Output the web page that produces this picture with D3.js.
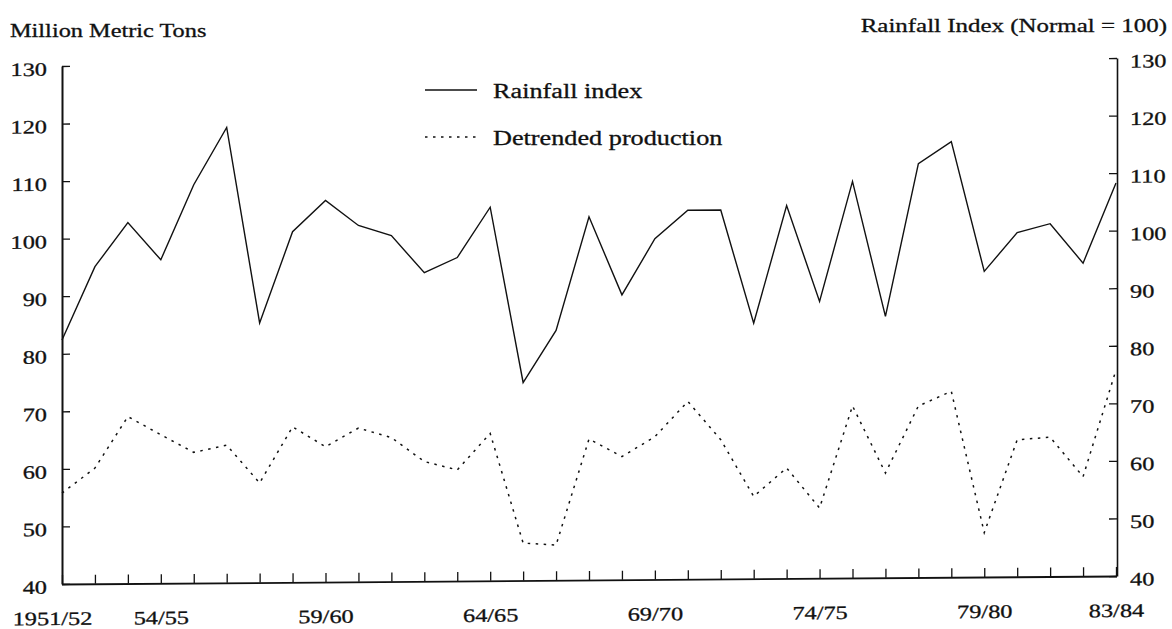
<!DOCTYPE html>
<html>
<head>
<meta charset="utf-8">
<script src="https://cdn.jsdelivr.net/npm/d3@7"></script>
<style>
  html, body { margin: 0; padding: 0; background: #fff; }
  svg { display: block; }
  text { font-family: "Liberation Serif", "Times New Roman", serif; fill: #111; stroke: #111; stroke-width: 0.3px; }
</style>
</head>
<body>
<svg id="chart" width="1172" height="629"></svg>
<script>
// ---- data ----
const seasons = ["1951/52","52/53","53/54","54/55","55/56","56/57","57/58","58/59","59/60","60/61",
  "61/62","62/63","63/64","64/65","65/66","66/67","67/68","68/69","69/70","70/71",
  "71/72","72/73","73/74","74/75","75/76","76/77","77/78","78/79","79/80","80/81",
  "81/82","82/83","83/84"];
const labeledSeasons = ["1951/52","54/55","59/60","64/65","69/70","74/75","79/80","83/84"];
const rainfallIndex = [82.4, 95.1, 102.7, 96.2, 109.2, 119.1, 85.1, 100.9, 106.3, 101.9,
  100.1, 93.6, 96.2, 104.9, 74.4, 83.4, 103.1, 89.5, 99.2, 104.1,
  104.1, 84.4, 104.8, 88.1, 108.9, 85.4, 111.9, 115.7, 93.1, 99.8,
  101.3, 94.4, 108.3];
const detrendedProduction = [55.8, 60.1, 69.0, 65.8, 62.7, 63.9, 57.3, 67.0, 63.5, 66.7,
  65.0, 60.8, 59.3, 65.6, 46.5, 46.1, 64.5, 61.4, 64.8, 70.9,
  64.2, 54.3, 59.2, 52.2, 69.9, 58.2, 69.8, 72.3, 47.7, 63.8,
  64.2, 57.3, 75.8];
const leftTicks = [40, 50, 60, 70, 80, 90, 100, 110, 120, 130];
const rightTicks = [40, 50, 60, 70, 80, 90, 100, 110, 120, 130];
const leftTitle = "Million Metric Tons";
const rightTitle = "Rainfall Index (Normal = 100)";
const legendLabels = ["Rainfall index", "Detrended production"];

// ---- layout ----
const svg = d3.select("#chart");
const SX = 1.28; // horizontal stretch of the scanned type
const x0 = 62, x1 = 1116, xRightAxis = 1117;
const yBottom = 584, yTop = 66;
const shear = -8 / (x1 - x0);

const x = d3.scalePoint().domain(seasons).range([x0, x1]);
const yL = d3.scaleLinear().domain([40, 130]).range([yBottom, yTop]);
const yR = d3.scaleLinear().domain([40, 130]).range([yBottom, yTop]);

// plot group slightly sheared like the scanned original
const g = svg.append("g")
  .attr("transform", `matrix(1,${shear},0,1,0,${-shear * x0})`);

function stretchText(sel, xOff, yOff) {
  sel.attr("x", xOff / SX).attr("y", yOff).attr("transform", `scale(${SX},1)`);
}

// left axis
const axL = g.append("g").attr("transform", `translate(${x0},0)`)
  .call(d3.axisLeft(yL).tickValues(leftTicks).tickSizeInner(-8).tickSizeOuter(0).tickPadding(15));
axL.select(".domain").attr("stroke", "#111").attr("stroke-width", 2);
axL.selectAll(".tick line").attr("stroke", "#111").attr("stroke-width", 1.3);
axL.selectAll(".tick text").attr("font-size", 19).attr("font-family", "Liberation Serif")
  .attr("fill", "#111").each(function() { stretchText(d3.select(this), -15, 3); });

// right axis
const axR = g.append("g").attr("transform", `translate(${xRightAxis},0)`)
  .call(d3.axisRight(yR).tickValues(rightTicks).tickSizeInner(-8).tickSizeOuter(0).tickPadding(13));
axR.select(".domain").attr("stroke", "#111").attr("stroke-width", 1.6);
axR.selectAll(".tick line").attr("stroke", "#111").attr("stroke-width", 1.3);
axR.selectAll(".tick text").attr("font-size", 19).attr("font-family", "Liberation Serif")
  .attr("fill", "#111").each(function() { stretchText(d3.select(this), 13, 3); });

// bottom axis
const axB = g.append("g").attr("transform", `translate(0,${yBottom})`)
  .call(d3.axisBottom(x).tickSizeInner(-9).tickSizeOuter(0)
    .tickFormat(d => labeledSeasons.includes(d) ? d : ""));
axB.select(".domain").attr("stroke", "#111").attr("stroke-width", 1.8)
  .attr("d", `M${x0},0.5H${xRightAxis}`);
axB.selectAll(".tick line").attr("stroke", "#111").attr("stroke-width", 1.3);
axB.selectAll(".tick text").attr("font-size", 19).attr("font-family", "Liberation Serif")
  .attr("fill", "#111").attr("dy", 0)
  .each(function(d) { stretchText(d3.select(this), d === seasons[0] ? -10 : 0, 41); });

// lines
const rainLine = d3.line().x((d, i) => x(seasons[i])).y(d => yR(d));
const prodLine = d3.line().x((d, i) => x(seasons[i])).y(d => yL(d));

g.append("path").datum(rainfallIndex)
  .attr("fill", "none").attr("stroke", "#111").attr("stroke-width", 1.4)
  .attr("stroke-linejoin", "miter").attr("d", rainLine);

g.append("path").datum(detrendedProduction)
  .attr("fill", "none").attr("stroke", "#111").attr("stroke-width", 1.5)
  .attr("stroke-dasharray", "2.5,5.5").attr("d", prodLine);

// titles
svg.append("text").attr("font-size", 19).attr("text-anchor", "start")
  .attr("transform", `translate(10,37) scale(${SX},1)`).text(leftTitle);
svg.append("text").attr("font-size", 19.5).attr("text-anchor", "end")
  .attr("transform", `translate(1167,32) scale(${SX},1)`).text(rightTitle);

// legend
const legend = svg.append("g");
const legendStyles = [null, "2.5,5.5"];
const legendY = [90, 137];
legendLabels.forEach((lab, i) => {
  legend.append("line").attr("x1", 425).attr("x2", 477)
    .attr("y1", legendY[i]).attr("y2", legendY[i])
    .attr("stroke", "#111").attr("stroke-width", i === 0 ? 1.3 : 1.5)
    .attr("stroke-dasharray", legendStyles[i]);
  legend.append("text").attr("font-size", 20.5)
    .attr("transform", `translate(493,${legendY[i] + 8}) scale(${SX},1)`).text(lab);
});
</script>
</body>
</html>
